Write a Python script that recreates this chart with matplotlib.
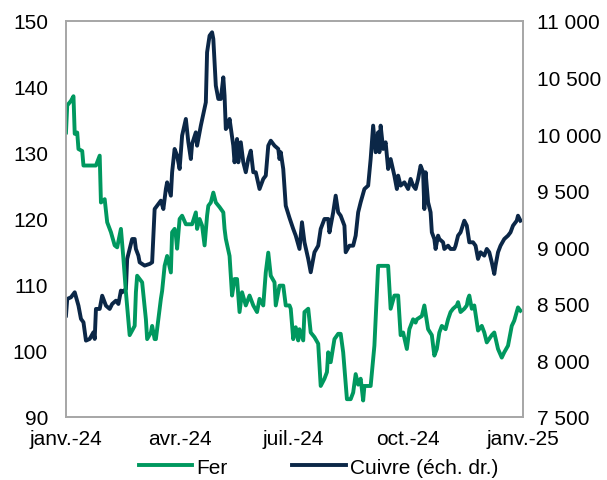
import matplotlib.pyplot as plt
import matplotlib.ticker as ticker
import pandas as pd

plt.rcParams['font.family'] = ['Liberation Sans', 'DejaVu Sans']

# Fer (échelle de gauche)
fer_dates = [
    "2024-01-01", "2024-01-02", "2024-01-05", "2024-01-07", "2024-01-08", "2024-01-10",
    "2024-01-11", "2024-01-14", "2024-01-15", "2024-01-25", "2024-01-28", "2024-01-29",
    "2024-02-01", "2024-02-03", "2024-02-06", "2024-02-09", "2024-02-11", "2024-02-14",
    "2024-02-16", "2024-02-18", "2024-02-21", "2024-02-25", "2024-02-26", "2024-02-27",
    "2024-03-02", "2024-03-05", "2024-03-06", "2024-03-09", "2024-03-10", "2024-03-12",
    "2024-03-13", "2024-03-17", "2024-03-18", "2024-03-20", "2024-03-22", "2024-03-25",
    "2024-03-26", "2024-03-28", "2024-03-29", "2024-03-30", "2024-04-01", "2024-04-03",
    "2024-04-06", "2024-04-09", "2024-04-11", "2024-04-14", "2024-04-15", "2024-04-17",
    "2024-04-19", "2024-04-21", "2024-04-23", "2024-04-24", "2024-04-26", "2024-04-28",
    "2024-04-30", "2024-05-03", "2024-05-06", "2024-05-07", "2024-05-08", "2024-05-11",
    "2024-05-13", "2024-05-15", "2024-05-17", "2024-05-19", "2024-05-21", "2024-05-24",
    "2024-05-27", "2024-05-30", "2024-06-02", "2024-06-04", "2024-06-07", "2024-06-09",
    "2024-06-11", "2024-06-13", "2024-06-16", "2024-06-17", "2024-06-20", "2024-06-23",
    "2024-06-25", "2024-06-28", "2024-06-29", "2024-07-01", "2024-07-03", "2024-07-05",
    "2024-07-06", "2024-07-09", "2024-07-10", "2024-07-13", "2024-07-15", "2024-07-18",
    "2024-07-21", "2024-07-23", "2024-07-26", "2024-07-28", "2024-07-29", "2024-07-31",
    "2024-08-03", "2024-08-06", "2024-08-08", "2024-08-10", "2024-08-13", "2024-08-16",
    "2024-08-18", "2024-08-20", "2024-08-22", "2024-08-24", "2024-08-26", "2024-08-27",
    "2024-09-01", "2024-09-04", "2024-09-07", "2024-09-15", "2024-09-17", "2024-09-20",
    "2024-09-23", "2024-09-25", "2024-09-27", "2024-09-30", "2024-10-02", "2024-10-05",
    "2024-10-07", "2024-10-08", "2024-10-12", "2024-10-14", "2024-10-17", "2024-10-20",
    "2024-10-22", "2024-10-24", "2024-10-26", "2024-10-28", "2024-10-31", "2024-11-02",
    "2024-11-04", "2024-11-06", "2024-11-09", "2024-11-10", "2024-11-12", "2024-11-15",
    "2024-11-17", "2024-11-18", "2024-11-19", "2024-11-21", "2024-11-23", "2024-11-26",
    "2024-11-29", "2024-12-01", "2024-12-03", "2024-12-07", "2024-12-09", "2024-12-12",
    "2024-12-15", "2024-12-17", "2024-12-20", "2024-12-23", "2024-12-25", "2024-12-27",
    "2024-12-28", "2024-12-30",
]
fer_values = [
    133.1, 137.2, 137.9, 138.6, 132.9, 133.1,
    130.6, 130.3, 128.1, 128.1, 129.6, 122.5,
    123.0, 119.5, 118.0, 116.0, 115.7, 118.5,
    114.0, 108.9, 102.4, 103.8, 108.9, 111.4,
    110.4, 104.8, 101.8, 102.8, 103.8, 101.8,
    101.8, 107.9, 109.1, 112.9, 114.4, 111.9,
    118.0, 118.5, 117.5, 115.5, 120.0, 120.5,
    119.2, 119.2, 119.2, 121.0, 118.5, 120.0,
    119.0, 116.0, 120.5, 122.0, 122.5, 124.0,
    122.5, 121.8, 121.0, 118.5, 117.0, 114.4,
    108.4, 110.9, 110.9, 105.9, 108.9, 106.9,
    108.4, 106.9, 105.9, 107.9, 106.9, 111.9,
    114.9, 111.4, 110.4, 106.9, 109.9, 109.9,
    106.9, 106.9, 106.4, 101.8, 103.6, 101.6,
    103.3, 101.6, 105.9, 106.4, 102.8, 102.1,
    101.1, 94.7, 95.8, 96.8, 99.8, 98.3,
    101.8, 102.6, 102.6, 99.8, 92.7, 92.7,
    93.7, 96.5, 94.9, 95.8, 92.5, 94.7,
    94.7, 100.8, 112.9, 112.9, 106.4, 108.4,
    108.4, 102.4, 102.8, 100.3, 103.3, 104.8,
    104.3, 104.8, 105.3, 106.9, 103.3, 102.4,
    99.3, 100.3, 102.8, 103.8, 103.3, 104.8,
    105.9, 106.4, 106.9, 107.4, 105.9, 106.4,
    106.9, 107.9, 108.4, 106.4, 106.9, 103.1,
    103.8, 102.8, 101.3, 102.4, 102.8, 100.3,
    99.0, 99.8, 100.8, 103.8, 104.6, 105.9,
    106.6, 106.1,
]

# Cuivre (échelle de droite)
cuivre_dates = [
    "2024-01-01", "2024-01-02", "2024-01-05", "2024-01-08", "2024-01-11", "2024-01-13",
    "2024-01-15", "2024-01-17", "2024-01-20", "2024-01-23", "2024-01-24", "2024-01-25",
    "2024-01-28", "2024-01-30", "2024-02-02", "2024-02-05", "2024-02-07", "2024-02-10",
    "2024-02-12", "2024-02-14", "2024-02-15", "2024-02-18", "2024-02-19", "2024-02-21",
    "2024-02-23", "2024-02-25", "2024-02-26", "2024-02-28", "2024-02-29", "2024-03-04",
    "2024-03-08", "2024-03-10", "2024-03-12", "2024-03-14", "2024-03-17", "2024-03-19",
    "2024-03-21", "2024-03-22", "2024-03-25", "2024-03-26", "2024-03-28", "2024-03-30",
    "2024-04-01", "2024-04-03", "2024-04-06", "2024-04-08", "2024-04-10", "2024-04-11",
    "2024-04-14", "2024-04-15", "2024-04-18", "2024-04-20", "2024-04-22", "2024-04-23",
    "2024-04-25", "2024-04-27", "2024-04-28", "2024-04-30", "2024-05-02", "2024-05-04",
    "2024-05-06", "2024-05-07", "2024-05-08", "2024-05-10", "2024-05-11", "2024-05-14",
    "2024-05-15", "2024-05-17", "2024-05-18", "2024-05-20", "2024-05-22", "2024-05-24",
    "2024-05-26", "2024-05-28", "2024-05-30", "2024-06-01", "2024-06-04", "2024-06-07",
    "2024-06-09", "2024-06-11", "2024-06-13", "2024-06-16", "2024-06-19", "2024-06-20",
    "2024-06-21", "2024-06-23", "2024-06-25", "2024-06-28", "2024-07-01", "2024-07-03",
    "2024-07-06", "2024-07-08", "2024-07-10", "2024-07-13", "2024-07-15", "2024-07-18",
    "2024-07-21", "2024-07-23", "2024-07-26", "2024-07-29", "2024-07-30", "2024-08-02",
    "2024-08-04", "2024-08-06", "2024-08-08", "2024-08-11", "2024-08-12", "2024-08-15",
    "2024-08-18", "2024-08-20", "2024-08-22", "2024-08-24", "2024-08-27", "2024-08-30",
    "2024-09-01", "2024-09-03", "2024-09-05", "2024-09-07", "2024-09-08", "2024-09-09",
    "2024-09-11", "2024-09-13", "2024-09-15", "2024-09-17", "2024-09-20", "2024-09-22",
    "2024-09-23", "2024-09-25", "2024-09-28", "2024-10-01", "2024-10-03", "2024-10-05",
    "2024-10-07", "2024-10-09", "2024-10-11", "2024-10-13", "2024-10-14", "2024-10-15",
    "2024-10-17", "2024-10-19", "2024-10-20", "2024-10-22", "2024-10-23", "2024-10-25",
    "2024-10-26", "2024-10-29", "2024-10-30", "2024-11-02", "2024-11-04", "2024-11-07",
    "2024-11-08", "2024-11-10", "2024-11-12", "2024-11-15", "2024-11-17", "2024-11-19",
    "2024-11-22", "2024-11-24", "2024-11-26", "2024-11-28", "2024-12-01", "2024-12-03",
    "2024-12-05", "2024-12-07", "2024-12-09", "2024-12-10", "2024-12-12", "2024-12-14",
    "2024-12-17", "2024-12-20", "2024-12-22", "2024-12-24", "2024-12-27", "2024-12-28",
    "2024-12-30",
]
cuivre_values = [
    8396, 8543, 8558, 8602, 8484, 8367,
    8337, 8175, 8190, 8249, 8190, 8455,
    8455, 8572, 8484, 8455, 8499, 8528,
    8499, 8617, 8602, 8631, 8897, 8985,
    9073, 9073, 8985, 8926, 8867, 8838,
    8853, 8867, 9338, 9367, 9412, 9338,
    9515, 9574, 9456, 9663, 9869, 9810,
    9692, 9987, 10134, 9928, 9780, 9913,
    10016, 9898, 10075, 10178, 10281, 10723,
    10870, 10900, 10841, 10428, 10311, 10311,
    10502, 10340, 10045, 10075, 10134, 9898,
    9751, 9957, 9751, 9928, 9751, 9663,
    9780, 9854, 9663, 9663, 9515, 9604,
    9633, 9898, 9942, 9898, 9869, 9780,
    9840, 9692, 9367, 9260, 9162, 9103,
    8985, 9221, 9044, 8897, 8779, 8956,
    9014, 9162, 9250, 9250, 9132, 9309,
    9456, 9309, 9279, 9191, 8956, 9014,
    9014, 9103, 9309, 9398, 9515, 9545,
    9780, 10075, 9840, 10016, 9840, 10075,
    9869, 9928, 9692, 9780, 9633, 9515,
    9633, 9545, 9574, 9515, 9604, 9545,
    9515, 9604, 9721, 9663, 9338, 9663,
    9398, 9309, 9132, 9073, 8985, 9103,
    9073, 9044, 8985, 9014, 8985, 8985,
    9014, 9103, 9132, 9235, 9191, 9044,
    9044, 9014, 8897, 8956, 8926, 8985,
    8956, 8867, 8764, 8838, 8956, 9014,
    9073, 9103, 9132, 9191, 9235, 9279,
    9235,
]

tick_dates = ["2024-01-01", "2024-04-01", "2024-07-01", "2024-10-01", "2025-01-01"]
tick_labels = ["janv.-24", "avr.-24", "juil.-24", "oct.-24", "janv.-25"]

green = "#00985f"
navy = "#0b2747"
grey = "#a6a6a6"
fs = 15

fig = plt.figure(figsize=(6.07, 4.81), dpi=100)
ax = fig.add_axes([0.1087, 0.131, 0.7529, 0.8233])
ax2 = ax.twinx()

l1, = ax.plot(pd.to_datetime(fer_dates), fer_values, color=green, lw=2.8, label="Fer")
l2, = ax2.plot(pd.to_datetime(cuivre_dates), cuivre_values, color=navy, lw=2.8,
               label="Cuivre (éch. dr.)")
ax.set_zorder(ax2.get_zorder() + 1)
ax.patch.set_visible(False)

ax.set_xlim(pd.Timestamp("2024-01-01"), pd.Timestamp("2025-01-01"))
ax.set_ylim(90, 150)
ax.set_yticks(range(90, 151, 10))
ax2.set_ylim(7500, 11000)
ax2.set_yticks(range(7500, 11001, 500))
ax2.yaxis.set_major_formatter(
    ticker.FuncFormatter(lambda v, p: f"{int(v):,}".replace(",", " ")))

ax.set_xticks(pd.to_datetime(tick_dates))
ax.set_xticklabels(tick_labels)

for a in (ax, ax2):
    for s in a.spines.values():
        s.set_color(grey)
        s.set_linewidth(1.2)
    a.tick_params(length=0, labelsize=fs, colors="black")
ax.tick_params(axis="x", pad=9)
ax.tick_params(axis="y", pad=13)
ax2.tick_params(axis="y", pad=10)

fig.legend(handles=[l1, l2], loc="center", bbox_to_anchor=(0.525, 0.027), ncol=2,
           frameon=False, fontsize=fs, handlelength=2.55, handletextpad=0.2,
           columnspacing=3.1, borderpad=0)

fig.savefig("out.png", dpi=100)
